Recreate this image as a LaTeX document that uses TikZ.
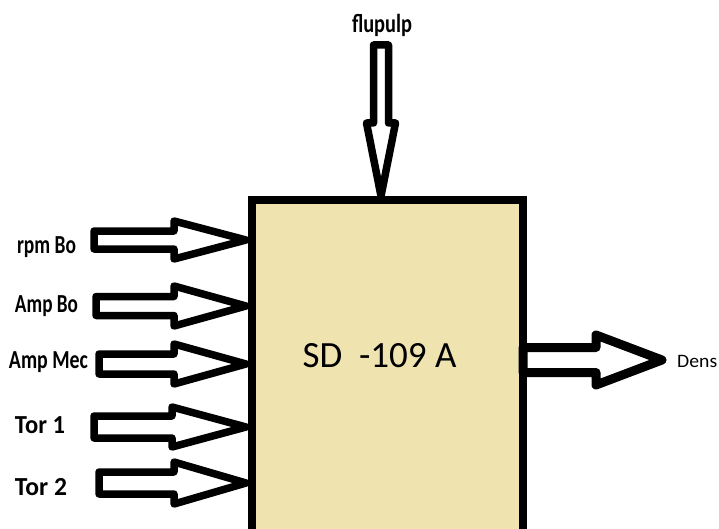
\documentclass[tikz,border=0pt]{standalone}
\usepackage{fontspec}
\setmainfont{Carlito}
\usepackage{graphicx}
\tikzset{
  blockarrow/.style={draw=black, line width=7.5pt, line join=round, fill=white},
  bigarrow/.style={draw=black, line width=9pt, line join=round, fill=white},
  boxstyle/.style={draw=black, line width=8pt, fill=boxfill},
  lbl/.style={inner sep=0pt, font=\fontsize{26}{28}\selectfont\bfseries},
}
\definecolor{boxfill}{RGB}{239,228,176}
\newcommand\lab[2]{\resizebox{#1}{\height}{#2}}
\newcommand\harrow[7][blockarrow]{%
  \draw[#1] (#2,#5-#6) -- (#3,#5-#6) -- (#3,#5-#7) -- (#4,#5) -- (#3,#5+#7) -- (#3,#5+#6) -- (#2,#5+#6) -- cycle;}
\begin{document}
\begin{tikzpicture}[x=1pt,y=-1pt]
\useasboundingbox[fill=white] (0,0) rectangle (719,529);
\begin{scope}
\clip (0,0) rectangle (719,529);
% main block
\draw[boxstyle] (252,200) rectangle (523,570);
\node[inner sep=0pt, anchor=base, font=\fontsize{37}{40}\selectfont] (sd) at (379.5,367) {SD\ \ -109 A};
% top input
\coordinate (toptip) at (381,196);
\draw[blockarrow] (373.5,45) -- (388.5,45) -- (388.5,123) -- (395.5,123) -- (toptip) -- (366.5,123) -- (373.5,123) -- cycle;
\node[lbl, anchor=base] (flu) at (382,33) {\lab{60pt}{flupulp}};
% left inputs
\harrow{94}{174}{246}{240}{9}{19}
\harrow{96}{174}{246}{306}{9.5}{20}
\harrow{99}{174}{246}{364}{10}{20}
\harrow{94}{172}{246}{427}{11}{20}
\harrow{99}{174}{246}{483}{11}{21}
\node[lbl, anchor=base] (rpm) at (46.5,253) {\lab{59pt}{rpm Bo}};
\node[lbl, anchor=base] (ampbo) at (46.5,312) {\lab{63pt}{Amp Bo}};
\node[lbl, anchor=base] (ampmec) at (48.5,368) {\lab{79pt}{Amp Mec}};
\node[lbl, anchor=base] (tor1) at (40,433) {\lab{50pt}{Tor 1}};
\node[lbl, anchor=base] (tor2) at (41,495) {\lab{52pt}{Tor 2}};
% output
\harrow[bigarrow]{523}{596}{662}{360}{12.5}{25}
\node[inner sep=0pt, anchor=base west, font=\fontsize{19}{21}\selectfont] (dens) at (677,367) {\lab{40pt}{Dens}};
\end{scope}
\end{tikzpicture}
\end{document}
